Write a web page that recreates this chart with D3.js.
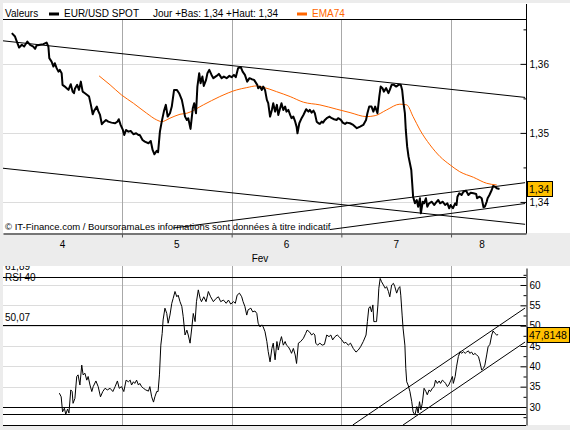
<!DOCTYPE html>
<html>
<head>
<meta charset="UTF-8">
<title>EUR/USD SPOT</title>
<style>
  body { margin: 0; background: #ececec; }
  svg { display: block; font-family: "Liberation Sans", Arial, sans-serif; }
</style>
</head>
<body>
<div id="chart"></div>
<script src="https://cdnjs.cloudflare.com/ajax/libs/d3/7.8.5/d3.min.js"></script>
<script>
// time is in hours since Feb 4, 00:00
const priceHours = [
  -0.1,0.6,1.0,1.5,2.1,2.6,3.3,3.9,4.6,5.0,
  5.3,6.1,6.8,7.5,7.9,8.1,8.6,9.0,9.3,9.7,
  10.1,10.4,10.8,11.0,11.5,11.9,12.3,12.8,13.2,13.5,
  13.7,14.2,14.6,15.0,15.4,15.9,16.4,16.8,17.2,17.6,
  17.9,18.5,18.8,19.2,19.6,20.1,20.5,21.0,21.7,22.5,
  23.0,23.3,23.7,24.2,24.5,24.9,25.4,25.9,26.5,27.1,
  27.6,27.9,28.5,29.0,29.8,30.3,30.7,31.1,31.6,31.9,
  32.3,32.7,33.2,33.6,34.0,34.5,34.9,35.4,36.0,36.5,
  37.1,37.4,37.8,38.2,38.5,39.0,39.5,39.8,40.2,40.5,
  40.9,41.2,41.6,41.9,42.4,42.7,43.1,43.6,44.0,44.7,
  45.2,45.8,46.3,46.9,47.5,48.0,48.5,48.9,49.4,50.0,
  50.4,50.9,51.4,51.9,52.4,52.9,53.6,53.8,54.2,54.6,
  54.9,55.3,55.7,56.0,56.4,56.8,57.1,57.5,57.9,58.2,
  58.6,58.9,59.3,59.7,60.0,60.4,60.8,61.1,61.5,61.9,
  62.2,62.4,62.8,63.3,63.7,64.3,64.8,65.1,65.5,65.9,
  66.2,66.6,67.0,67.3,67.7,68.0,68.4,68.8,69.4,69.9,
  70.4,71.0,71.3,71.9,72.3,72.8,73.2,73.9,74.6,75.4,
  76.1,76.8,77.4,77.7,78.1,78.6,79.0,79.4,79.9,80.3,
  80.6,81.0,81.3,81.8,82.3,82.6,83.0,83.5,84.0,84.5,
  85.0,85.3,85.6,85.9,86.1,86.4,86.7,87.0,87.3,87.5,
  87.7,88.1,88.5,88.8,89.2,89.4,89.8,90.1,90.5,90.8,
  91.2,91.8,92.3,92.7,93.2,93.6,94.2,94.7,95.2,95.6,
  95.9,96.4,96.9,97.2,97.4,97.8,98.3,98.7,99.3,99.8,
  100.3,100.9,101.5,101.7,102.2,102.7,103.1,103.4,103.8,104.0,
  104.4,104.9,105.2,105.6,106.0,106.6
];
const priceValues = [
  1.36445,1.36396,1.36323,1.36236,1.36276,1.36251,1.36323,1.36276,1.36251,1.36218,
  1.36265,1.36276,1.36286,1.36309,1.36251,1.36083,1.36033,1.35961,1.3601,1.35938,
  1.35888,1.35913,1.35865,1.35696,1.35671,1.35648,1.35623,1.35706,1.35598,1.35575,
  1.35638,1.35696,1.35623,1.35743,1.35598,1.35575,1.3555,1.35526,1.35406,1.3527,
  1.35319,1.35381,1.35319,1.3526,1.35126,1.35163,1.35188,1.35163,1.35149,1.3514,
  1.35163,1.35198,1.35116,1.35043,1.3497,1.35043,1.35018,1.35028,1.34981,1.34995,
  1.3497,1.3497,1.34898,1.34873,1.3485,1.34883,1.34753,1.34691,1.34739,1.3472,
  1.35018,1.35163,1.35319,1.35406,1.35236,1.35285,1.35381,1.35623,1.35623,1.35575,
  1.35478,1.35381,1.35236,1.35188,1.35213,1.35058,1.35358,1.3543,1.35285,1.35671,
  1.35865,1.3572,1.35816,1.35681,1.35768,1.35865,1.35913,1.3584,1.35793,1.35826,
  1.35855,1.35793,1.35816,1.35793,1.35826,1.35807,1.3584,1.35807,1.35938,1.35952,
  1.35888,1.3584,1.35743,1.35793,1.35778,1.35768,1.35696,1.35648,1.35671,1.35623,
  1.35671,1.35623,1.35478,1.3543,1.35236,1.35333,1.3543,1.35308,1.35406,1.3526,
  1.35358,1.3543,1.35333,1.35381,1.35308,1.35333,1.3526,1.35213,1.35236,1.35163,
  1.35091,1.34995,1.3514,1.35213,1.3526,1.35343,1.35308,1.35333,1.35294,1.35323,
  1.35285,1.35163,1.3514,1.3513,1.35163,1.35149,1.35188,1.35213,1.35236,1.35213,
  1.35198,1.35188,1.35213,1.35188,1.35149,1.3513,1.35149,1.3514,1.35116,1.35068,
  1.35091,1.35116,1.35188,1.35285,1.35381,1.35381,1.35308,1.35381,1.35285,1.35526,
  1.35671,1.35648,1.35598,1.35648,1.35575,1.35623,1.35696,1.35696,1.35671,1.35696,
  1.35696,1.35623,1.3543,1.35285,1.35043,1.34801,1.34656,1.3456,1.34463,1.3427,
  1.34076,1.3398,1.34028,1.33931,1.34053,1.33835,1.34003,1.3398,1.34053,1.33931,
  1.3398,1.34003,1.33955,1.33989,1.34028,1.3398,1.34003,1.33955,1.3398,1.33908,
  1.33955,1.33908,1.3398,1.33955,1.34076,1.34125,1.341,1.34148,1.34163,1.341,
  1.34134,1.34125,1.34115,1.34053,1.34076,1.34053,1.33922,1.33931,1.34003,1.34053,
  1.341,1.34173,1.34231,1.34221,1.34198,1.34188
];
const emaHours = [19.0,21.4,23.9,26.5,29.4,31.6,32.7,34.5,36.7,38.2,41.8,45.4,49.1,51.3,53.5,54.9,57.8,60.8,
  63.7,67.3,71.0,73.9,77.5,79.4,81.9,84.8,86.3,87.7,89.2,91.4,93.6,95.8,97.9,100.9,103.8,106.0];
const emaValues = [1.35826,1.35696,1.3555,1.3543,1.35285,1.35188,1.35163,1.35213,1.3527,1.35285,1.35406,1.35526,
  1.35623,1.35656,1.35681,1.35662,1.35598,1.35526,1.35445,1.35406,1.35343,1.35294,1.35236,1.3525,1.35333,1.35416,
  1.35406,1.35236,1.35043,1.34826,1.34656,1.34536,1.34438,1.34357,1.3427,1.34246];
const rsiHours = [
  10.3,10.7,11.0,11.4,11.7,12.1,12.4,12.8,13.1,13.3,
  13.7,14.1,14.4,14.8,15.2,15.5,15.9,16.3,16.6,17.0,
  17.4,17.7,18.3,18.8,19.3,19.8,20.3,20.8,21.4,22.0,
  22.5,23.0,23.4,23.9,24.4,24.9,25.4,25.8,26.1,26.5,
  26.8,27.2,27.6,27.9,28.3,28.7,29.2,29.8,30.1,30.5,
  30.9,31.2,31.6,31.9,32.2,32.5,32.8,33.0,33.4,33.8,
  34.1,34.5,34.9,35.2,35.6,36.0,36.3,36.7,37.1,37.4,
  37.8,38.2,38.5,38.9,39.3,39.6,40.0,40.3,40.7,41.1,
  41.4,41.9,42.4,42.9,43.4,44.0,44.6,45.1,45.6,46.2,
  46.8,47.3,47.8,48.4,48.8,49.2,49.7,50.2,50.5,50.9,
  51.3,51.6,52.2,52.6,53.1,53.5,53.8,54.2,54.6,54.9,
  55.3,55.7,56.0,56.4,56.8,57.1,57.5,57.9,58.2,58.6,
  58.9,59.3,59.7,60.0,60.4,60.8,61.1,61.5,61.9,62.2,
  62.6,63.1,63.7,64.2,64.5,65.0,65.5,65.9,66.2,66.4,
  66.8,67.3,67.8,68.3,68.8,69.3,69.7,70.1,70.6,71.1,
  71.5,72.1,72.6,73.0,73.5,74.0,74.6,75.2,75.7,76.2,
  76.8,77.4,77.7,78.0,78.3,78.6,78.9,79.1,79.4,79.7,
  80.0,80.2,80.5,80.8,81.2,81.6,81.9,82.3,82.6,83.0,
  83.4,83.7,84.1,84.5,84.8,85.0,85.3,85.5,85.9,86.1,
  86.3,86.6,87.0,87.4,87.7,88.1,88.5,88.8,89.1,89.4,
  89.7,90.1,90.5,90.8,91.2,91.5,91.9,92.3,92.6,93.0,
  93.4,93.7,94.1,94.5,94.8,95.2,95.5,95.9,96.3,96.5,
  96.9,97.2,97.6,98.0,98.3,98.7,99.1,99.4,99.8,100.1,
  100.5,100.9,101.2,101.6,102.0,102.3,102.7,103.1,103.4,103.8,
  104.1,104.5,104.9,105.2,105.6,106.0,106.3
];
const rsiValues = [
  33.4,32.5,28.8,29.7,28.2,29.5,28.5,34.2,33.8,30.9,
  32.1,37.5,37.9,35.4,40.3,37.9,38.3,36.6,37.5,35.4,
  33.8,35.0,36.4,35.0,32.5,33.8,34.6,34.2,34.6,33.8,
  35.0,36.4,34.6,35.0,33.8,36.6,36.2,36.6,35.4,36.2,
  35.8,36.6,35.4,35.8,35.0,34.6,34.2,33.9,35.0,32.5,
  31.2,32.5,33.8,33.8,37.9,45.2,48.1,51.4,54.3,53.0,
  50.6,52.6,55.5,56.7,58.4,57.1,57.5,55.9,54.7,52.2,
  47.7,48.9,47.7,45.7,49.7,53.0,51.0,55.9,58.8,56.7,
  55.9,57.1,55.9,58.4,57.1,55.9,56.7,57.1,55.9,56.3,
  55.5,56.3,55.3,55.9,55.5,57.5,58.0,57.1,55.9,54.7,
  52.6,53.9,54.3,53.4,53.6,53.0,50.6,49.7,50.2,49.7,
  48.5,46.1,43.6,41.1,44.4,45.7,41.6,46.1,44.0,46.1,
  47.3,45.2,46.1,45.2,44.8,44.0,43.2,44.4,42.8,40.7,
  45.7,46.1,46.9,48.1,48.9,48.5,47.7,48.1,47.7,45.7,
  45.2,45.7,45.2,45.4,47.7,47.3,47.7,46.5,47.3,47.7,
  47.3,46.5,45.7,45.9,45.2,45.7,44.4,43.5,44.0,44.8,
  46.1,47.7,51.0,54.3,54.7,53.4,55.1,51.0,51.0,51.0,
  55.1,59.2,61.6,60.8,60.0,59.2,59.6,58.4,57.1,60.0,
  60.4,59.6,58.0,59.2,59.6,57.5,52.6,49.4,45.2,39.5,
  36.2,35.4,33.8,31.3,28.8,28.0,30.1,28.5,31.3,29.3,
  30.9,34.6,33.8,33.0,34.2,33.8,34.6,35.0,36.6,35.8,
  36.4,35.8,36.6,36.2,35.8,35.0,35.4,36.4,37.5,35.8,
  37.5,39.9,42.4,43.6,43.2,43.6,43.2,43.5,43.8,43.2,
  43.5,42.8,43.2,42.8,42.4,41.1,39.1,39.5,40.3,42.8,
  44.8,45.4,47.7,48.7,48.1,47.7,47.81
];
const lastRsi = 47.8148;

const dayTicks = [24, 48, 72, 96];
const dayLabels = ["4", "5", "6", "7", "8"];
const dayLabelHours = [11, 36, 60, 84, 102.8];
const monthLabel = "Fev";
const monthLabelHour = 54.2;

const priceTicks = [1.34, 1.35, 1.36];
const priceMinorTicks = [1.345, 1.355, 1.365];
const rsiTicks = [30, 35, 40, 45, 50, 55, 60];
const rsiMinorTicks = [27.5, 32.5, 37.5, 42.5, 47.5, 52.5, 57.5, 62.5];
const rsiLevels = [61.89, 50.07, 30.07, 28.2];
const rsiLevelLabels = ["61,89", "50,07"];

// trend lines: [hour0, value0, hour1, value1]
const priceTrends = [
  [-2.03, 1.36334, 112.2, 1.35514],
  [-2.03, 1.34488, 112.2, 1.33676],
  [35.2, 1.33622, 112.2, 1.34279],
  [69.5, 1.33600, 112.2, 1.33977]
];
const rsiTrends = [
  [74.5, 25.57, 112.2, 54.34],
  [85.5, 25.57, 112.2, 45.98]
];

const W = 570, H = 430,
      plotL = 3, plotR = 526,
      head1 = 3, top1 = 19, bot1 = 233,
      top2 = 268, bot2 = 425, panel2 = 266;

const locale = d3.formatLocale({decimal: ",", thousands: " ", grouping: [3], currency: ["", " €"]}),
      fmtPrice = locale.format(".2f"),
      fmtRsi = locale.format(".4f");

const x = d3.scaleLinear().domain([-2.03, 112.4]).range([plotL, plotR]),
      yP = d3.scaleLinear().domain([1.3355, 1.3665]).range([bot1, top1]),
      yR = d3.scaleLinear().domain([25.57, 64.18]).range([bot2, top2]);

const px = v => Math.round(v) + 0.5;

const svg = d3.select('#chart').append('svg')
    .attr('width', W)
    .attr('height', H);

svg.append('rect').attr('width', W).attr('height', H).attr('fill', '#ececec');
svg.append('rect').attr('x', plotL).attr('y', head1).attr('width', W - plotL).attr('height', bot1 - head1).attr('fill', '#fff');
svg.append('rect').attr('x', plotL).attr('y', panel2).attr('width', W - plotL).attr('height', bot2 - panel2).attr('fill', '#fff');

const defs = svg.append('defs');
defs.append('clipPath').attr('id', 'clipTop')
  .append('rect').attr('x', plotL).attr('y', top1).attr('width', plotR - plotL).attr('height', bot1 - top1);
defs.append('clipPath').attr('id', 'clipBot')
  .append('rect').attr('x', plotL).attr('y', panel2).attr('width', plotR - plotL).attr('height', bot2 - panel2);

// ---------- upper panel ----------
const gTop = svg.append('g').attr('clip-path', 'url(#clipTop)');

gTop.selectAll('.hgrid').data(priceTicks).enter().append('line')
    .attr('x1', plotL).attr('x2', plotR)
    .attr('y1', d => px(yP(d))).attr('y2', d => px(yP(d)))
    .attr('stroke', '#dcdcdc');

gTop.selectAll('.vgrid').data(dayTicks).enter().append('line')
    .attr('x1', d => px(x(d))).attr('x2', d => px(x(d)))
    .attr('y1', top1).attr('y2', bot1)
    .attr('stroke', '#a8a8a8');

svg.append('text')
    .attr('x', 5).attr('y', 230)
    .attr('font-size', '9.5px')
    .text('© IT-Finance.com / BoursoramaLes informations sont données à titre indicatif');

gTop.selectAll('.trend').data(priceTrends).enter().append('line')
    .attr('x1', d => x(d[0])).attr('y1', d => yP(d[1]))
    .attr('x2', d => x(d[2])).attr('y2', d => yP(d[3]))
    .attr('stroke', '#000').attr('stroke-width', 1);

const ema = d3.zip(emaHours, emaValues),
      price = d3.zip(priceHours, priceValues);

gTop.append('path')
    .datum(ema)
    .attr('fill', 'none')
    .attr('stroke', '#ff6600')
    .attr('stroke-width', 1)
    .attr('d', d3.line().x(d => x(d[0])).y(d => yP(d[1])).curve(d3.curveMonotoneX));

gTop.append('path')
    .datum(price)
    .attr('fill', 'none')
    .attr('stroke', '#000')
    .attr('stroke-width', 2)
    .attr('stroke-linejoin', 'round')
    .attr('d', d3.line().x(d => x(d[0])).y(d => yP(d[1])));

// header
svg.append('line')
    .attr('x1', plotL).attr('x2', plotR)
    .attr('y1', top1 + 0.5).attr('y2', top1 + 0.5)
    .attr('stroke', '#000');
const head = svg.append('g').attr('font-size', '10px');
head.append('text').attr('x', 5).attr('y', 16.5).text('Valeurs');
head.append('rect').attr('x', 49).attr('y', 12.5).attr('width', 10).attr('height', 3).attr('fill', '#000');
head.append('text').attr('x', 64).attr('y', 16.5).text('EUR/USD SPOT');
head.append('text').attr('x', 153).attr('y', 16.5).text('Jour +Bas: 1,34 +Haut: 1,34');
head.append('rect').attr('x', 297).attr('y', 12.5).attr('width', 10).attr('height', 3).attr('fill', '#ff6600');
head.append('text').attr('x', 312).attr('y', 16.5).attr('fill', '#ff6600').text('EMA74');

// bottom time axis
svg.append('g')
    .attr('transform', 'translate(0,' + (bot1 + 0.5) + ')')
    .call(d3.axisBottom(x).tickValues(dayTicks).tickSize(4).tickSizeOuter(0).tickFormat(''))
    .call(g => g.selectAll('.tick line').attr('stroke', '#555'));

svg.selectAll('.daylabel').data(dayLabels).enter().append('text')
    .attr('x', (d, i) => x(dayLabelHours[i]))
    .attr('y', 248)
    .attr('text-anchor', 'middle')
    .attr('font-size', '10px')
    .text(d => d);
svg.append('text')
    .attr('x', x(monthLabelHour)).attr('y', 262)
    .attr('text-anchor', 'middle')
    .attr('font-size', '10px')
    .text(monthLabel);

// right price axis
svg.append('line')
    .attr('x1', plotR + 0.5).attr('x2', plotR + 0.5)
    .attr('y1', head1 + 1).attr('y2', bot1 + 0.5)
    .attr('stroke', '#000');
svg.append('g')
    .attr('transform', 'translate(' + (plotR + 0.5) + ',0)')
    .call(d3.axisRight(yP).tickValues(priceTicks).tickSize(6).tickFormat(fmtPrice))
    .call(g => g.select('.domain').remove())
    .call(g => g.selectAll('.tick line').attr('x2', -6))
    .call(g => g.selectAll('.tick text').attr('x', 3).attr('fill', '#000')
        .attr('font-size', '10px').attr('font-family', '"Liberation Sans", Arial, sans-serif'));
svg.append('g')
    .attr('transform', 'translate(' + (plotR + 0.5) + ',0)')
    .call(d3.axisRight(yP).tickValues(priceMinorTicks).tickSize(3).tickFormat(''))
    .call(g => g.select('.domain').remove())
    .call(g => g.selectAll('.tick line').attr('x2', -3));

// value box helper
const valueBox = (yPos, label) => {
  const g = svg.append('g').attr('transform', 'translate(' + (plotR + 1) + ',' + yPos + ')');
  const rect = g.append('rect').attr('fill', '#ffc000').attr('stroke', '#000');
  const t = g.append('text').attr('x', 2).attr('dy', '0.36em')
      .attr('font-size', '10.5px').text(label);
  const w = t.node().getComputedTextLength();
  rect.attr('x', 0.5).attr('y', -7.5).attr('width', Math.ceil(w) + 4).attr('height', 15);
};
valueBox(Math.round(yP(priceValues[priceValues.length - 1])), fmtPrice(priceValues[priceValues.length - 1]));

// ---------- lower panel (RSI) ----------
const gBot = svg.append('g').attr('clip-path', 'url(#clipBot)');

gBot.selectAll('.hgrid').data(rsiTicks).enter().append('line')
    .attr('x1', plotL).attr('x2', plotR)
    .attr('y1', d => px(yR(d))).attr('y2', d => px(yR(d)))
    .attr('stroke', '#dcdcdc');

gBot.selectAll('.vgrid').data(dayTicks).enter().append('line')
    .attr('x1', d => px(x(d))).attr('x2', d => px(x(d)))
    .attr('y1', panel2).attr('y2', bot2)
    .attr('stroke', '#a8a8a8');

gBot.selectAll('.level').data(rsiLevels).enter().append('line')
    .attr('x1', plotL).attr('x2', plotR)
    .attr('y1', d => px(yR(d))).attr('y2', d => px(yR(d)))
    .attr('stroke', '#000');

gBot.selectAll('.levellabel').data(rsiLevelLabels).enter().append('text')
    .attr('x', 5)
    .attr('y', (d, i) => yR(rsiLevels[i]) - (i === 0 ? 7.5 : 4))
    .attr('font-size', '10px')
    .text(d => d);

gBot.append('text').attr('x', 5).attr('y', 281).attr('font-size', '10px').text('RSI 40');

gBot.selectAll('.trend').data(rsiTrends).enter().append('line')
    .attr('x1', d => x(d[0])).attr('y1', d => yR(d[1]))
    .attr('x2', d => x(d[2])).attr('y2', d => yR(d[3]))
    .attr('stroke', '#000');

gBot.append('path')
    .datum(d3.zip(rsiHours, rsiValues))
    .attr('fill', 'none')
    .attr('stroke', '#000')
    .attr('stroke-width', 1)
    .attr('d', d3.line().x(d => x(d[0])).y(d => yR(d[1])));

svg.append('line')
    .attr('x1', plotL).attr('x2', plotR)
    .attr('y1', bot2 + 0.5).attr('y2', bot2 + 0.5)
    .attr('stroke', '#000');

svg.append('g')
    .attr('transform', 'translate(' + (plotR + 0.5) + ',0)')
    .call(d3.axisRight(yR).tickValues(rsiTicks).tickSize(6).tickSizeOuter(0).tickFormat(d3.format('d')))
    .call(g => g.selectAll('.tick line').attr('x2', -6))
    .call(g => g.selectAll('.tick text').attr('x', 3).attr('fill', '#000')
        .attr('font-size', '10px').attr('font-family', '"Liberation Sans", Arial, sans-serif'));
svg.append('g')
    .attr('transform', 'translate(' + (plotR + 0.5) + ',0)')
    .call(d3.axisRight(yR).tickValues(rsiMinorTicks).tickSize(3).tickFormat(''))
    .call(g => g.select('.domain').remove())
    .call(g => g.selectAll('.tick line').attr('x2', -3));

valueBox(Math.round(yR(lastRsi)), fmtRsi(lastRsi));
</script>
</body>
</html>
